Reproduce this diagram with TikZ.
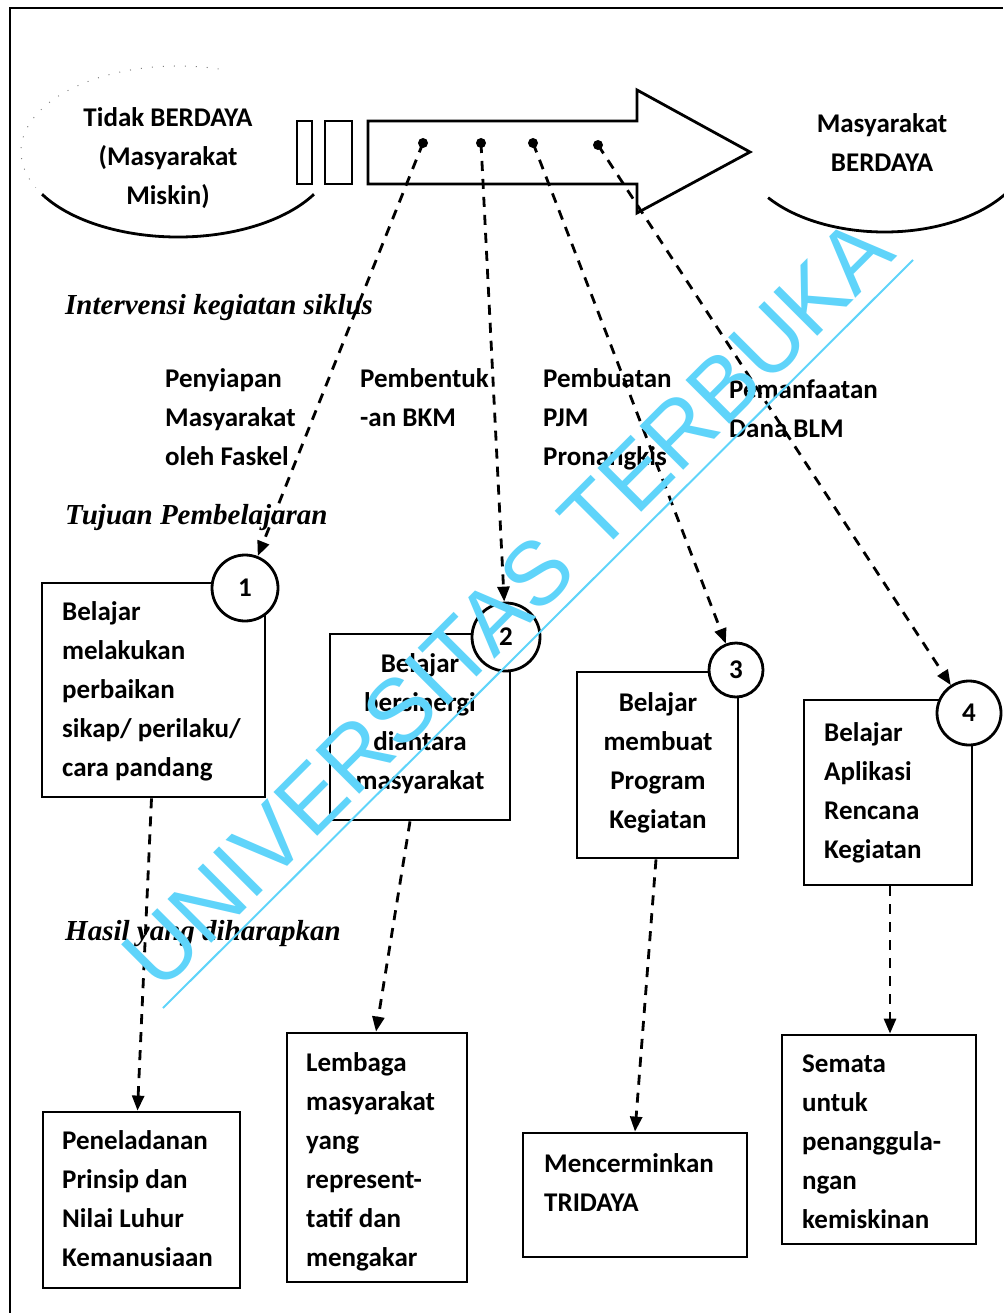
\documentclass[tikz,border=0pt]{standalone}
\usepackage{fontspec}
\setmainfont{Carlito}
\newfontfamily\tms{Liberation Serif}
\newfontfamily\wmfont{Liberation Sans}
\usetikzlibrary{arrows.meta}
\definecolor{wm}{RGB}{95,212,250}
\newcommand{\fst}{\rule{0pt}{20pt}}
\begin{document}
\begin{tikzpicture}[x=1pt,y=1pt,
  every node/.style={inner sep=0pt},
  bx/.style={draw,line width=2.8pt,rectangle},
  num/.style={draw,circle,line width=2.8pt,fill=white,font=\fontsize{27}{30}\selectfont\bfseries},
  txt/.style={font=\fontsize{27}{39}\selectfont\bfseries,align=left,anchor=north west},
  ctxt/.style={font=\fontsize{27}{39}\selectfont\bfseries,align=center,anchor=north},
  ital/.style={font=\tms\fontsize{29}{34}\selectfont\bfseries\itshape,anchor=base west},
  dl/.style={line width=2.8pt,dash pattern=on 10pt off 8pt,-{Triangle[length=15pt,width=12pt]}},
  ln/.style={line width=2.8pt}]
\useasboundingbox (0,0) rectangle (1003,-1313);
% frame
\draw[ln] (10,-1313) -- (10,-8) -- (1003,-8);
% ellipses
\draw[ln] (178,-151.5) ++(210:157 and 85.5) arc[start angle=210,end angle=330,x radius=157,y radius=85.5];
\draw[gray,line width=1pt,dash pattern=on 1pt off 10pt] (178,-151.5) ++(75:157 and 85.5) arc[start angle=75,end angle=205,x radius=157,y radius=85.5];
\draw[ln] (884.5,-147) ++(216.6:145 and 85) arc[start angle=216.6,end angle=335,x radius=145,y radius=85];
\node[ctxt] (tl) at (168,-106) {\fst Tidak BERDAYA\\(Masyarakat\\Miskin)};
\node[ctxt] (tr) at (882,-112) {\fst Masyarakat\\BERDAYA};
% big arrow
\draw[ln,line join=miter] (368,-121) -- (637,-121) -- (637,-90) -- (750,-152) -- (637,-213) -- (637,-184) -- (368,-184) -- cycle;
\draw[ln] (297,-121) rectangle (312,-184);
\draw[ln] (325,-121) rectangle (352,-184);
\coordinate (d1) at (423,-143);
\coordinate (d2) at (481,-143);
\coordinate (d3) at (533,-143);
\coordinate (d4) at (598,-145);
\foreach \d in {d1,d2,d3,d4} \fill (\d) circle (5pt);
% labels
\node[ital] (i1) at (65,-315) {Intervensi kegiatan siklus};
\node[ital] (i2) at (65,-524) {Tujuan Pembelajaran};
\node[ital] (i3) at (65,-940) {Hasil yang diharapkan};
\node[txt] (l1) at (165,-367) {\fst Penyiapan\\Masyarakat\\oleh Faskel};
\node[txt] (l2) at (360,-367) {\fst Pembentuk\\-an BKM};
\node[txt] (l3) at (543,-367) {\fst Pembuatan\\PJM\\Pronangkis};
\node[txt] (l4) at (729,-378) {\fst Pemanfaatan\\Dana BLM};
% boxes
\node[bx,minimum width=223pt,minimum height=214pt] (b1) at (153.5,-690) {};
\node[bx,minimum width=180pt,minimum height=186pt] (b2) at (420,-727) {};
\node[bx,minimum width=161pt,minimum height=186pt] (b3) at (657.5,-765) {};
\node[bx,minimum width=168pt,minimum height=185pt] (b4) at (888,-792.5) {};
\node[bx,minimum width=197pt,minimum height=176pt] (b5) at (141.5,-1200) {};
\node[bx,minimum width=180pt,minimum height=249pt] (b6) at (377,-1157.5) {};
\node[bx,minimum width=224pt,minimum height=124pt] (b7) at (635,-1195) {};
\node[bx,minimum width=194pt,minimum height=209pt] (b8) at (879,-1139.5) {};
\node[txt] (t1) at (62,-600) {\fst Belajar\\melakukan\\perbaikan\\sikap/ perilaku/\\cara pandang};
\node[ctxt] (t2) at (420,-652) {\fst Belajar\\bersinergi\\diantara\\masyarakat};
\node[ctxt] (t3) at (658,-691) {\fst Belajar\\membuat\\Program\\Kegiatan};
\node[txt] (t4) at (824,-721) {\fst Belajar\\Aplikasi\\Rencana\\Kegiatan};
\node[txt] (t5) at (62,-1129) {\fst Peneladanan\\Prinsip dan\\Nilai Luhur\\Kemanusiaan};
\node[txt] (t6) at (306,-1051) {\fst Lembaga\\masyarakat\\yang\\represent-\\tatif dan\\mengakar};
\node[txt] (t7) at (544,-1152) {\fst Mencerminkan\\TRIDAYA};
\node[txt] (t8) at (802,-1052) {\fst Semata\\untuk\\penanggula-\\ngan\\kemiskinan};
% number circles
\node[num,minimum size=66pt] (c1) at (245,-588) {1};
\node[num,minimum size=68pt] (c2) at (506,-637) {2};
\node[num,minimum size=54pt] (c3) at (736,-670) {3};
\node[num,minimum size=64pt] (c4) at (969,-713) {4};
% connectors
\draw[dl] (d1) -- (c1);
\draw[dl] (d2) -- (c2);
\draw[dl] (d3) -- (c3);
\draw[dl] (d4) -- (c4);
\draw[dl] ([xshift=-2pt]b1.south) -- ([xshift=-4pt]b5.north);
\draw[dl] ([xshift=-10pt]b2.south) -- ([xshift=-1pt]b6.north);
\draw[dl] ([xshift=-1.5pt]b3.south) -- (b7.north);
\draw[dl] ([xshift=2pt]b4.south) -- ([xshift=11pt]b8.north);
% watermark
\draw[wm,line width=2pt] (163,-1008) -- (913,-260);
\node[text=wm,font=\wmfont\fontsize{90}{90}\selectfont,rotate=45,anchor=base] (wmk) at (529,-625) {UNIVERSITAS TERBUKA};
\end{tikzpicture}
\end{document}
